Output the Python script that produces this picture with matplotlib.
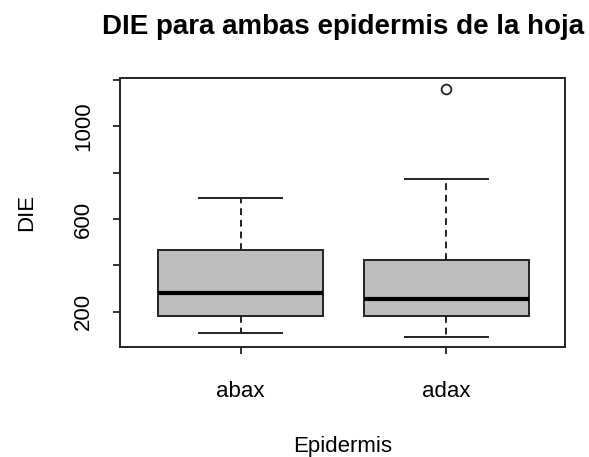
import matplotlib
matplotlib.use("Agg")
import matplotlib.pyplot as plt

# Summary stats (R style)
groups = ["abax", "adax"]
whisker_low = [107, 90]
q1 = [181, 181]
medians = [282, 256]
q3 = [467, 423]
whisker_high = [691, 772]
outliers = [[], [1161]]

plt.rcParams["font.family"] = ["Liberation Sans", "DejaVu Sans"]

stats = []
for i, g in enumerate(groups):
    stats.append({"label": g, "whislo": whisker_low[i], "q1": q1[i], "med": medians[i],
                  "q3": q3[i], "whishi": whisker_high[i], "fliers": outliers[i]})

fig = plt.figure(figsize=(5.89, 4.57), dpi=100)
ax = fig.add_axes([0.2043, 0.240, 0.755, 0.5887])

edge = "#222222"
ax.bxp(stats, positions=[1, 2], widths=0.8, capwidths=0.4, patch_artist=True,
       boxprops=dict(facecolor="#bebebe", edgecolor=edge, linewidth=1.4),
       medianprops=dict(color="black", linewidth=3, solid_capstyle="butt"),
       whiskerprops=dict(color=edge, linewidth=1.4, linestyle=(0, (3.5, 2.5))),
       capprops=dict(color=edge, linewidth=1.4),
       flierprops=dict(marker="o", markerfacecolor="none", markeredgecolor=edge,
                       markersize=7, markeredgewidth=1.3))

ax.set_xlim(0.416, 2.576)
ax.set_ylim(47, 1206)
ax.set_yticks([200, 400, 600, 800, 1000, 1200])
ax.set_yticklabels(["200", "", "600", "", "1000", ""], rotation=90, va="center")
ax.tick_params(axis="both", length=5, width=1.3, labelsize=16, color=edge)
ax.tick_params(axis="x", pad=19)
ax.tick_params(axis="y", pad=14)
for s in ax.spines.values():
    s.set_linewidth(1.4)
    s.set_color(edge)

ax.set_xlabel("Epidermis", fontsize=16)
ax.xaxis.set_label_coords(0.5, -0.33)
ax.set_ylabel("DIE", fontsize=16)
ax.yaxis.set_label_coords(-0.186, 0.5)
ax.set_title("DIE para ambas epidermis de la hoja", fontsize=20, fontweight="bold", pad=32)

fig.savefig("out.png", dpi=100)
